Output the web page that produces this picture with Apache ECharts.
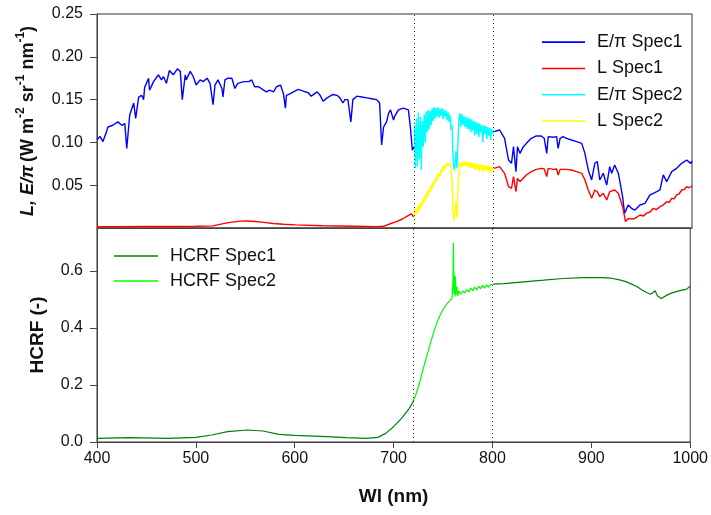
<!DOCTYPE html>
<html><head><meta charset="utf-8">
<script src="https://cdn.jsdelivr.net/npm/echarts@6/dist/echarts.min.js"></script>
<style>html,body{margin:0;padding:0;background:#fff}#c{width:711px;height:515px}</style>
</head><body><div id="c"></div>
<script>
// ---- data ----
const xTicks = [400, 500, 600, 700, 800, 900, 1000];
const refLines = [720, 800];

// E/pi Spec1 (400-720)
const wlEpi1a = [400,403,406,410,411,416,421,425,428,430,433,435,437,439,442,445,447,448,452,453,457,462,465,467,470,473,477,481,484,486,489,490,494,497,500,504,507,511,514,517,519,522,526,527,529,532,536,539,542,548,553,556,559,563,568,571,574,578,581,585,588,590,591,595,598,603,608,613,616,622,625,628,632,635,638,642,645,648,650,653,656,658,662,667,672,677,682,685,687,689,692,694,696,699,700,704,709,714,716,718,720];
const valEpi1a = [0.103,0.107,0.101,0.114,0.118,0.120,0.124,0.120,0.122,0.093,0.132,0.130,0.146,0.128,0.153,0.155,0.150,0.164,0.175,0.161,0.171,0.179,0.173,0.177,0.169,0.184,0.179,0.186,0.183,0.150,0.179,0.173,0.183,0.177,0.167,0.173,0.171,0.175,0.169,0.144,0.167,0.173,0.163,0.153,0.173,0.175,0.175,0.163,0.169,0.171,0.171,0.173,0.165,0.165,0.161,0.159,0.161,0.159,0.165,0.167,0.157,0.140,0.155,0.157,0.159,0.162,0.160,0.158,0.154,0.159,0.155,0.148,0.152,0.154,0.156,0.155,0.152,0.146,0.150,0.150,0.124,0.150,0.154,0.153,0.152,0.151,0.150,0.146,0.097,0.118,0.124,0.134,0.138,0.126,0.130,0.138,0.140,0.138,0.118,0.091,0.095];
// E/pi Spec1 (800-1000)
const wlEpi1b = [800.5,806,811,815,818,820,822.5,824,826.5,830,833,838,843,848,851,853.5,855,860,863.5,865,867,870,873.5,878.5,883.7,888.8,892,895.4,898.8,902,904.5,907,910.5,914,917,919,922,925.7,927,930,932,935.7,939,942.5,947.5,952.6,957.6,961,964.4,967.7,971,974.5,976,979.5,984.5,989.6,994.6,998.7,1000];
const valEpi1b = [0.1125,0.1145,0.1048,0.0794,0.0756,0.0950,0.0658,0.0950,0.0872,0.0950,0.0989,0.1048,0.1075,0.1075,0.1048,0.0872,0.1067,0.1060,0.1067,0.0931,0.1048,0.1067,0.1048,0.1028,0.1009,0.0989,0.0872,0.0678,0.0561,0.0756,0.0775,0.0561,0.0639,0.0502,0.0717,0.0639,0.0736,0.0639,0.0561,0.0366,0.0171,0.0269,0.0230,0.0210,0.0269,0.0288,0.0386,0.0405,0.0424,0.0444,0.0620,0.0541,0.0541,0.0658,0.0697,0.0755,0.0794,0.0755,0.0780];

// L Spec1 (400-720)
const wlL1a = [400,420,450,480,500,517,525,534,545,551,560,568,578,588,600,628,660,682,689,695,702,708,712,717,719,720];
const valL1a = [0.0015,0.0015,0.0017,0.0018,0.0020,0.0025,0.0045,0.0066,0.0080,0.0082,0.0076,0.0066,0.0052,0.0043,0.0036,0.0027,0.0020,0.0016,0.0020,0.0047,0.0074,0.0105,0.0132,0.0164,0.0132,0.0135];
// L Spec1 (800-1000)
const wlL1b = [800.5,806,811,815,818,820,822.5,824,826.5,833,838,843,848,851,853.5,855,860,863.5,865,867,873.5,878.5,883.7,888.8,892,895.4,898.8,902,904.5,907,910.5,914,917,922,925.7,930,933,935.7,937.4,940,942.5,947.5,951,954,958,961,964,967.7,971,974.5,977,979.5,982,984.5,987,989.6,992,994.6,997,1000];
const valL1b = [0.0697,0.0717,0.0639,0.0483,0.0463,0.0600,0.0424,0.0580,0.0541,0.0619,0.0658,0.0685,0.0697,0.0690,0.0600,0.0697,0.0685,0.0690,0.0619,0.0685,0.0685,0.0678,0.0658,0.0639,0.0561,0.0444,0.0347,0.0444,0.0424,0.0366,0.0405,0.0327,0.0424,0.0444,0.0405,0.0249,0.0074,0.0110,0.0132,0.0105,0.0113,0.0152,0.0140,0.0171,0.0190,0.0230,0.0215,0.0249,0.0270,0.0307,0.0300,0.0347,0.0340,0.0386,0.0400,0.0444,0.0450,0.0483,0.0470,0.0490];

// Spec2 wavelengths (720-800, 1 nm)
const wlSpec2 = [720,721,722,723,724,725,726,727,728,729,730,731,732,733,734,735,736,737,738,739,740,741,742,743,744,745,746,747,748,749,750,751,752,753,754,755,756,757,758,759,760,761,762,763,764,765,766,767,768,769,770,771,772,773,774,775,776,777,778,779,780,781,782,783,784,785,786,787,788,789,790,791,792,793,794,795,796,797,798,799,800];
const valEpi2 = [0.120,0.070,0.128,0.072,0.135,0.080,0.130,0.068,0.125,0.095,0.133,0.100,0.136,0.112,0.138,0.115,0.137,0.120,0.140,0.125,0.141,0.128,0.140,0.130,0.141,0.129,0.139,0.131,0.140,0.127,0.138,0.130,0.137,0.126,0.135,0.124,0.132,0.115,0.120,0.085,0.068,0.072,0.090,0.070,0.100,0.128,0.134,0.118,0.133,0.120,0.131,0.118,0.130,0.116,0.129,0.115,0.128,0.112,0.127,0.114,0.125,0.108,0.124,0.110,0.123,0.106,0.122,0.112,0.120,0.100,0.120,0.110,0.119,0.104,0.118,0.108,0.117,0.103,0.116,0.110,0.114];
const valL2 = [0.013,0.022,0.016,0.025,0.019,0.028,0.022,0.031,0.026,0.035,0.030,0.039,0.034,0.043,0.038,0.046,0.042,0.050,0.046,0.054,0.050,0.058,0.054,0.062,0.058,0.065,0.061,0.069,0.065,0.072,0.068,0.074,0.071,0.076,0.073,0.076,0.074,0.070,0.055,0.020,0.008,0.010,0.030,0.012,0.045,0.070,0.076,0.071,0.077,0.072,0.078,0.073,0.078,0.072,0.077,0.071,0.077,0.070,0.076,0.070,0.076,0.068,0.075,0.069,0.075,0.066,0.074,0.069,0.074,0.065,0.073,0.068,0.073,0.066,0.073,0.067,0.072,0.065,0.072,0.068,0.070];

// HCRF Spec1
const wlH1a = [400,432,472,500,516,532,552,568,584,600,632,652,672,684,692,700,708,716,720.6];
const valH1a = [0.0128,0.0152,0.0128,0.0163,0.0245,0.0362,0.0420,0.0385,0.0268,0.0233,0.0187,0.0152,0.0128,0.0163,0.0303,0.0537,0.0829,0.1179,0.1470];
const wlH1b = [800.5,811.7,831.7,851.7,871.6,891.6,911.6,920,927.6,935,939.6,946,951.6,956,959.6,962,964.4,967,970.8,975,979.6,985,991.6,996,1000];
const valH1b = [0.553,0.555,0.561,0.567,0.573,0.576,0.576,0.574,0.569,0.562,0.555,0.545,0.532,0.524,0.518,0.522,0.530,0.512,0.503,0.512,0.520,0.526,0.532,0.535,0.546];
// HCRF Spec2
const wlH2 = [720,722,724,726,728,730,732,734,736,738,740,742,744,746,748,750,752,754,756,758,759,760,760.5,761,761.5,762,762.5,763,764,765,766,768,770,772,774,776,778,780,782,784,786,788,790,792,794,796,798,800];
const valH2 = [0.147,0.160,0.183,0.205,0.230,0.258,0.282,0.306,0.330,0.355,0.378,0.400,0.419,0.436,0.451,0.463,0.474,0.484,0.492,0.499,0.503,0.560,0.698,0.520,0.585,0.510,0.580,0.515,0.545,0.512,0.530,0.518,0.530,0.522,0.534,0.526,0.540,0.530,0.543,0.533,0.546,0.537,0.549,0.539,0.551,0.542,0.553,0.550];

// ---- build ----
const zip = (xs, ys) => xs.map((x, i) => [x, ys[i]]);
const gap = [[760, '-']];
const FONT = 'Liberation Sans, Arial, sans-serif';

const chart = echarts.init(document.getElementById('c'), null, {renderer: 'canvas'});
const axisCol = '#444';
const dotted = {
  silent: true, symbol: ['none', 'none'], label: {show: false},
  lineStyle: {type: [1, 3], color: '#333', width: 1},
  data: refLines.map(v => ({xAxis: v}))
};

chart.setOption({
  animation: false,
  textStyle: {fontFamily: FONT},
  grid: [
    {left: 97, right: 19, top: 14, height: 214, show: true, borderColor: '#333', borderWidth: 1},
    {left: 97, right: 19, top: 228, height: 214, show: true, borderColor: '#333', borderWidth: 1}
  ],
  legend: [
    {orient: 'vertical', left: 542, top: 33, padding: 0, icon: 'rect', itemWidth: 43, itemHeight: 1.6, itemGap: 8,
     data: ['E/π Spec1', 'L Spec1', 'E/π Spec2', 'L Spec2'],
     textStyle: {fontSize: 18, color: '#111', fontFamily: FONT, lineHeight: 18.3, padding: [0, 0, 0, 7]}},
    {orient: 'vertical', left: 114, top: 247, padding: 0, icon: 'rect', itemWidth: 44, itemHeight: 1.6, itemGap: 7,
     data: ['HCRF Spec1', 'HCRF Spec2'],
     textStyle: {fontSize: 18, color: '#111', fontFamily: FONT, lineHeight: 18, padding: [0, 0, 0, 7]}}
  ],
  xAxis: [
    {type: 'value', gridIndex: 0, min: 400, max: 1000, interval: 100,
     axisLine: {show: true, lineStyle: {color: axisCol}}, axisTick: {show: false},
     axisLabel: {show: false}, splitLine: {show: false}},
    {type: 'value', gridIndex: 1, min: 400, max: 1000, interval: 100,
     name: 'Wl (nm)', nameLocation: 'middle', nameGap: 45,
     nameTextStyle: {fontSize: 19, fontWeight: 'bold', color: '#111', fontFamily: FONT},
     axisLine: {show: true, onZero: false, lineStyle: {color: axisCol}},
     axisTick: {show: true, inside: false, length: 6, lineStyle: {color: axisCol}, customValues: xTicks},
     axisLabel: {fontSize: 16, color: '#111', margin: 9, fontFamily: FONT, customValues: xTicks,
       formatter: v => String(v)},
     splitLine: {show: false}}
  ],
  yAxis: [
    {type: 'value', gridIndex: 0, min: 0, max: 0.25, interval: 0.05,
     name: '{i|L, E/π} {b|(W m}{s|-2}{b| sr}{s|-1}{b| nm}{s|-1}{b|)}',
     nameLocation: 'middle', nameGap: 60, nameRotate: 90,
     nameTextStyle: {
       fontFamily: FONT, color: '#111',
       rich: {
         i: {fontSize: 18, fontWeight: 'bold', fontStyle: 'italic', fontFamily: FONT, color: '#111', lineHeight: 22, verticalAlign: 'bottom'},
         b: {fontSize: 18, fontWeight: 'bold', fontFamily: FONT, color: '#111', lineHeight: 22, verticalAlign: 'bottom'},
         s: {fontSize: 12, fontWeight: 'bold', fontFamily: FONT, color: '#111', lineHeight: 12, verticalAlign: 'top'}
       }
     },
     axisLine: {show: true, lineStyle: {color: axisCol}},
     axisTick: {show: true, length: 7, lineStyle: {color: axisCol}, customValues: [0.05, 0.10, 0.15, 0.20, 0.25]},
     axisLabel: {fontSize: 16, color: '#111', margin: 14, fontFamily: FONT,
       customValues: [0.05, 0.10, 0.15, 0.20, 0.25], formatter: v => v.toFixed(2)},
     splitLine: {show: false}},
    {type: 'value', gridIndex: 1, min: 0, max: 0.75, interval: 0.2,
     name: 'HCRF (-)', nameLocation: 'middle', nameGap: 50, nameRotate: 90,
     nameTextStyle: {fontSize: 19, fontWeight: 'bold', color: '#111', fontFamily: FONT},
     axisLine: {show: true, lineStyle: {color: axisCol}},
     axisTick: {show: true, length: 7, lineStyle: {color: axisCol}, customValues: [0, 0.2, 0.4, 0.6]},
     axisLabel: {fontSize: 16, color: '#111', margin: 14, fontFamily: FONT,
       customValues: [0, 0.2, 0.4, 0.6], formatter: v => v.toFixed(1)},
     splitLine: {show: false}}
  ],
  series: [
    {name: 'E/π Spec1', type: 'line', xAxisIndex: 0, yAxisIndex: 0, symbol: 'none', connectNulls: false,
     lineStyle: {color: '#0000ff', width: 1.4}, itemStyle: {color: '#0000ff'},
     data: zip(wlEpi1a, valEpi1a).concat(gap, zip(wlEpi1b, valEpi1b))},
    {name: 'L Spec1', type: 'line', xAxisIndex: 0, yAxisIndex: 0, symbol: 'none', connectNulls: false,
     lineStyle: {color: '#ff0000', width: 1.4}, itemStyle: {color: '#ff0000'},
     data: zip(wlL1a, valL1a).concat(gap, zip(wlL1b, valL1b)), markLine: dotted},
    {name: 'E/π Spec2', type: 'line', xAxisIndex: 0, yAxisIndex: 0, symbol: 'none',
     lineStyle: {color: '#00ffff', width: 1.4}, itemStyle: {color: '#00ffff'},
     data: zip(wlSpec2, valEpi2)},
    {name: 'L Spec2', type: 'line', xAxisIndex: 0, yAxisIndex: 0, symbol: 'none',
     lineStyle: {color: '#ffff00', width: 1.4}, itemStyle: {color: '#ffff00'},
     data: zip(wlSpec2, valL2)},
    {name: 'HCRF Spec1', type: 'line', xAxisIndex: 1, yAxisIndex: 1, symbol: 'none', connectNulls: false,
     lineStyle: {color: '#008000', width: 1.2}, itemStyle: {color: '#008000'},
     data: zip(wlH1a, valH1a).concat(gap, zip(wlH1b, valH1b)), markLine: dotted},
    {name: 'HCRF Spec2', type: 'line', xAxisIndex: 1, yAxisIndex: 1, symbol: 'none',
     lineStyle: {color: '#00ff00', width: 1.2}, itemStyle: {color: '#00ff00'},
     data: zip(wlH2, valH2)}
  ]
});
</script></body></html>
